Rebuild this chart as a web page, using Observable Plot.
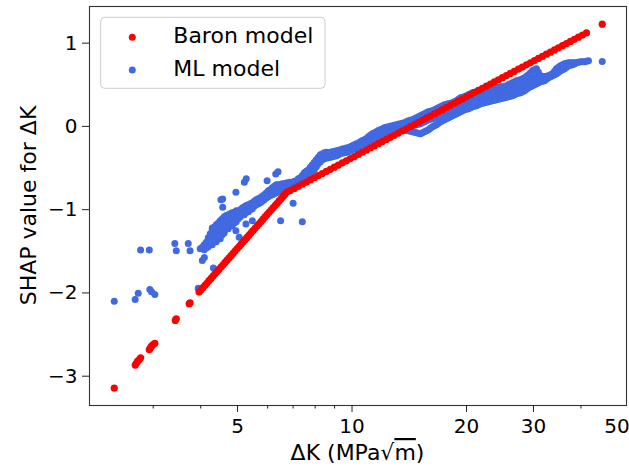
<!DOCTYPE html>
<html>
<head>
<meta charset="utf-8">
<script src="https://cdn.jsdelivr.net/npm/d3@7"></script>
<script src="https://cdn.jsdelivr.net/npm/@observablehq/plot@0.6"></script>
<style>
  html, body { margin: 0; padding: 0; background: #fff; }
</style>
</head>
<body>
<div id="chart"></div>
<script>
// ---- Data ----
const seriesNames = ["Baron model", "ML model"];
const seriesColors = ["#ff0000", "#4169e1"];

const xLabeledTicks = [5, 10, 20, 30];
const xEdgeTick = [50];
const xMinorTicks = [3, 4, 6, 7, 8, 9, 40];
const yTicks = [-3, -2, -1, 0, 1];

// Baron model: sparse low-ΔK points
const baronSparse = [
  [2.37,-3.144],[2.69,-2.866],[2.71,-2.845],[2.73,-2.82],[2.76,-2.80],[2.78,-2.78],
  [2.93,-2.68],[2.95,-2.66],[2.97,-2.64],[3.00,-2.62],[3.03,-2.605],
  [3.43,-2.33],[3.45,-2.31],[3.73,-2.13],[3.75,-2.12]
];
// Baron model: dense steep branch
const baronLow = [
  [3.960,-1.990],[4.008,-1.963],[4.057,-1.935],[4.107,-1.908],[4.157,-1.881],[4.207,-1.853],
  [4.259,-1.826],[4.311,-1.798],[4.363,-1.771],[4.417,-1.744],[4.470,-1.716],[4.525,-1.689],
  [4.580,-1.662],[4.636,-1.634],[4.693,-1.607],[4.750,-1.579],[4.808,-1.552],[4.866,-1.525],
  [4.926,-1.497],[4.986,-1.470],[5.046,-1.443],[5.108,-1.415],[5.170,-1.388],[5.233,-1.360],
  [5.297,-1.333],[5.362,-1.306],[5.427,-1.278],[5.493,-1.251],[5.560,-1.224],[5.628,-1.196],
  [5.696,-1.169],[5.766,-1.142],[5.836,-1.114],[5.907,-1.087],[5.979,-1.059],[6.052,-1.032],
  [6.126,-1.005],[6.201,-0.977],[6.276,-0.950],[6.353,-0.923],[6.430,-0.895],[6.509,-0.868],
  [6.588,-0.841],[6.668,-0.813],[6.750,-0.786]
];
// Baron model: dense shallow branch
const baronHigh = [
  [6.881,-0.771],[7.050,-0.745],[7.223,-0.720],[7.400,-0.694],[7.581,-0.669],[7.767,-0.643],
  [7.958,-0.617],[8.153,-0.592],[8.353,-0.566],[8.558,-0.541],[8.768,-0.515],[8.983,-0.490],
  [9.204,-0.464],[9.429,-0.438],[9.661,-0.413],[9.898,-0.387],[10.14,-0.362],[10.39,-0.336],
  [10.64,-0.310],[10.91,-0.285],[11.17,-0.259],[11.45,-0.234],[11.73,-0.208],[12.02,-0.182],
  [12.31,-0.157],[12.61,-0.131],[12.92,-0.106],[13.24,-0.080],[13.56,-0.054],[13.90,-0.029],
  [14.24,-0.003],[14.59,0.022],[14.94,0.048],[15.31,0.073],[15.69,0.099],[16.07,0.125],
  [16.47,0.150],[16.87,0.176],[17.28,0.201],[17.71,0.227],[18.14,0.253],[18.59,0.278],
  [19.04,0.304],[19.51,0.329],[19.99,0.355],[20.48,0.381],[20.98,0.406],[21.50,0.432],
  [22.02,0.457],[22.56,0.483],[23.12,0.509],[23.68,0.534],[24.26,0.560],[24.86,0.585],
  [25.47,0.611],[26.09,0.636],[26.73,0.662],[27.39,0.688],[28.06,0.713],[28.75,0.739],
  [29.46,0.764],[30.18,0.790],[30.92,0.816],[31.68,0.841],[32.45,0.867],[33.25,0.892],
  [34.07,0.918],[34.90,0.944],[35.76,0.969],[36.64,0.995],[37.53,1.020],[38.46,1.046],
  [39.40,1.071],[40.37,1.097],[41.36,1.123],[45.5,1.228]
];

// ML model: scattered points
const mlScatter = [
  [2.37,-2.10],[2.69,-2.08],[2.74,-2.005],[2.94,-1.96],[2.97,-1.985],[3.03,-2.02],
  [2.78,-1.484],[2.93,-1.484],[3.42,-1.405],[3.45,-1.492],[3.71,-1.405],[3.75,-1.492],
  [3.94,-1.945],[4.04,-1.612],[4.09,-1.576],[4.32,-1.70],[4.29,-1.22],[4.57,-0.972],
  [4.57,-0.872],[4.52,-0.88],[4.95,-0.792],[5.21,-0.672],[5.27,-0.628],[5.98,-0.652],
  [6.30,-0.571],[6.39,-0.544],[6.49,-1.132],[7.40,-1.144],[4.95,-1.252],[5.05,-1.332],
  [5.26,-1.172],[5.47,-1.132],[7.00,-0.924],[45.5,0.780]
];
// ML model: main band
const mlBand = [
  [3.989,-1.468],
  [4.087,-1.420],[4.087,-1.480],
  [4.187,-1.336],[4.187,-1.444],
  [4.290,-1.240],[4.290,-1.336],[4.290,-1.420],
  [4.395,-1.180],[4.395,-1.276],[4.395,-1.384],
  [4.503,-1.132],[4.503,-1.240],[4.503,-1.348],
  [4.613,-1.084],[4.613,-1.180],[4.613,-1.276],
  [4.726,-1.060],[4.726,-1.144],[4.726,-1.228],
  [4.842,-1.036],[4.842,-1.120],[4.842,-1.192],
  [4.961,-1.012],[4.961,-1.084],[4.961,-1.144],
  [5.083,-1.000],[5.083,-1.084],
  [5.208,-0.964],[5.208,-1.060],
  [5.336,-0.940],[5.336,-1.024],
  [5.467,-0.916],[5.467,-0.988],
  [5.601,-0.880],[5.601,-0.940],
  [5.738,-0.856],[5.738,-0.916],
  [5.879,-0.820],[5.879,-0.880],
  [6.023,-0.772],[6.023,-0.844],
  [6.171,-0.736],[6.171,-0.820],
  [6.322,-0.700],[6.322,-0.796],
  [6.477,-0.700],[6.477,-0.784],
  [6.636,-0.688],[6.636,-0.760],
  [6.799,-0.676],[6.799,-0.748],
  [6.966,-0.676],[6.966,-0.736],
  [7.137,-0.652],[7.137,-0.712],
  [7.312,-0.616],[7.312,-0.688],
  [7.491,-0.556],[7.491,-0.652],
  [7.675,-0.520],[7.675,-0.604],
  [7.863,-0.460],[7.863,-0.556],
  [8.056,-0.400],[8.056,-0.484],
  [8.254,-0.340],[8.254,-0.424],
  [8.456,-0.316],[8.456,-0.388],
  [8.664,-0.316],[8.664,-0.376],
  [8.876,-0.304],[8.876,-0.364],
  [9.094,-0.292],[9.094,-0.352],
  [9.317,-0.280],[9.317,-0.328],
  [9.546,-0.268],[9.546,-0.316],
  [9.780,-0.256],[9.780,-0.304],
  [10.02,-0.232],[10.02,-0.280],
  [10.27,-0.208],[10.27,-0.256],
  [10.52,-0.184],[10.52,-0.232],
  [10.78,-0.160],[10.78,-0.208],
  [11.04,-0.124],[11.04,-0.184],
  [11.31,-0.088],[11.31,-0.160],
  [11.59,-0.064],[11.59,-0.136],
  [11.87,-0.040],[11.87,-0.112],
  [12.16,-0.016],[12.16,-0.088],
  [12.46,-0.004],[12.46,-0.064],
  [12.77,0.008],[12.77,-0.052],
  [13.08,0.020],[13.08,-0.040],
  [13.40,0.032],[13.40,-0.028],
  [13.73,0.044],[13.73,-0.040],
  [14.07,0.068],[14.07,-0.004],[14.07,-0.052],
  [14.41,0.080],[14.41,0.008],[14.41,-0.064],
  [14.77,0.104],[14.77,0.020],[14.77,-0.076],
  [15.13,0.128],[15.13,0.032],[15.13,-0.088],
  [15.50,0.152],[15.50,0.056],[15.50,-0.064],
  [15.88,0.176],[15.88,0.080],[15.88,-0.040],
  [16.27,0.188],[16.27,0.092],[16.27,-0.004],
  [16.67,0.212],[16.67,0.116],[16.67,0.020],
  [17.08,0.236],[17.08,0.140],[17.08,0.056],
  [17.50,0.260],[17.50,0.164],[17.50,0.080],
  [17.93,0.272],[17.93,0.188],[17.93,0.104],
  [18.37,0.284],[18.37,0.200],[18.37,0.128],
  [18.82,0.309],[18.82,0.224],[18.82,0.152],
  [19.28,0.345],[19.28,0.260],[19.28,0.176],
  [19.75,0.357],[19.75,0.272],[19.75,0.200],
  [20.24,0.381],[20.24,0.297],[20.24,0.212],
  [20.73,0.405],[20.73,0.321],[20.73,0.236],
  [21.24,0.417],[21.24,0.333],[21.24,0.248],
  [21.76,0.417],[21.76,0.345],[21.76,0.272],
  [22.30,0.429],[22.30,0.357],[22.30,0.284],
  [22.84,0.441],[22.84,0.369],[22.84,0.297],
  [23.40,0.453],[23.40,0.381],[23.40,0.309],
  [23.98,0.465],[23.98,0.393],[23.98,0.321],
  [24.56,0.477],[24.56,0.405],[24.56,0.333],
  [25.17,0.477],[25.17,0.405],[25.17,0.345],
  [25.78,0.501],[25.78,0.429],[25.78,0.357],
  [26.42,0.525],[26.42,0.441],[26.42,0.369],
  [27.06,0.549],[27.06,0.465],[27.06,0.393],
  [27.73,0.561],[27.73,0.477],[27.73,0.405],
  [28.41,0.585],[28.41,0.501],[28.41,0.429],
  [29.10,0.621],[29.10,0.537],[29.10,0.465],
  [29.82,0.669],[29.82,0.573],[29.82,0.489],
  [30.55,0.693],[30.55,0.597],[30.55,0.513],
  [31.30,0.609],[31.30,0.537],
  [32.07,0.597],[32.07,0.549],
  [32.85,0.609],[32.85,0.585],
  [33.66,0.633],[33.66,0.609],
  [34.48,0.693],[34.48,0.633],
  [35.33,0.729],[35.33,0.669],
  [36.20,0.753],[36.20,0.693],
  [37.08,0.765],[37.08,0.729],
  [37.99,0.765],[37.99,0.741],
  [38.92,0.765],[39.88,0.777],[40.86,0.777],[41.86,0.789]
];
// ML model: points between the columns above
const mlBandFill = [
  [4.038,-1.45],
  [4.137,-1.39],[4.137,-1.46],
  [4.238,-1.29],[4.238,-1.38],
  [4.342,-1.21],[4.342,-1.38],
  [4.449,-1.16],[4.449,-1.32],
  [4.558,-1.11],[4.558,-1.19],[4.558,-1.30],
  [4.669,-1.07],[4.669,-1.23],
  [4.783,-1.05],[4.783,-1.12],[4.783,-1.19],
  [4.901,-1.03],[4.901,-1.16],
  [5.022,-1.02],[5.022,-1.11],
  [5.145,-0.98],[5.145,-1.06],
  [5.272,-0.95],[5.272,-1.03],
  [5.401,-0.93],[5.401,-1.00],
  [5.534,-0.90],[5.534,-0.96],
  [5.669,-0.87],[5.669,-0.93],
  [5.808,-0.84],[5.808,-0.90],
  [5.950,-0.80],[5.950,-0.86],
  [6.097,-0.76],[6.097,-0.83],
  [6.246,-0.72],[6.246,-0.81],
  [6.399,-0.70],[6.399,-0.78],
  [6.556,-0.69],[6.556,-0.77],
  [6.717,-0.68],[6.717,-0.75],
  [6.881,-0.67],[6.881,-0.74],
  [7.051,-0.66],[7.051,-0.72],
  [7.224,-0.63],[7.224,-0.70],
  [7.401,-0.59],[7.401,-0.67],
  [7.582,-0.54],[7.582,-0.63],
  [7.768,-0.49],[7.768,-0.58],
  [7.959,-0.43],[7.959,-0.52],
  [8.154,-0.37],[8.154,-0.45],
  [8.355,-0.33],[8.355,-0.40],
  [8.559,-0.31],[8.559,-0.38],
  [8.770,-0.31],[8.770,-0.37],
  [8.984,-0.30],[8.984,-0.36],
  [9.205,-0.29],[9.205,-0.34],
  [9.431,-0.27],[9.431,-0.32],
  [9.662,-0.26],[9.662,-0.31],
  [9.899,-0.245],[9.899,-0.29],
  [10.14,-0.22],[10.14,-0.27],
  [10.40,-0.20],[10.40,-0.245],
  [10.65,-0.17],[10.65,-0.22],
  [10.91,-0.145],[10.91,-0.195],
  [11.17,-0.105],[11.17,-0.17],
  [11.45,-0.075],[11.45,-0.15],
  [11.73,-0.05],[11.73,-0.125],
  [12.01,-0.03],[12.01,-0.10],
  [12.31,-0.01],[12.31,-0.075],
  [12.61,0.002],[12.61,-0.06],
  [12.93,0.014],[12.93,-0.046],
  [13.24,0.026],[13.24,-0.034],
  [13.56,0.038],[13.56,-0.034],
  [13.90,0.056],[13.90,-0.02],[13.90,-0.05],
  [14.24,0.074],[14.24,0.0],[14.24,-0.058],
  [14.59,0.092],[14.59,0.014],[14.59,-0.07],
  [14.95,0.116],[14.95,0.026],[14.95,-0.082],
  [15.31,0.14],[15.31,0.044],[15.31,-0.076],
  [15.69,0.164],[15.69,0.068],[15.69,-0.052],
  [16.07,0.182],[16.07,0.086],[16.07,-0.022],
  [16.47,0.20],[16.47,0.104],[16.47,0.008],
  [16.87,0.224],[16.87,0.128],[16.87,0.038],
  [17.29,0.248],[17.29,0.152],[17.29,0.068],
  [17.71,0.266],[17.71,0.176],[17.71,0.092],
  [18.15,0.278],[18.15,0.194],[18.15,0.116],
  [18.59,0.296],[18.59,0.212],[18.59,0.14],
  [19.05,0.327],[19.05,0.242],[19.05,0.164],
  [19.52,0.351],[19.52,0.266],[19.52,0.188],
  [19.99,0.369],[19.99,0.285],[19.99,0.206],
  [20.49,0.393],[20.49,0.309],[20.49,0.224],
  [20.98,0.411],[20.98,0.327],[20.98,0.242],
  [21.50,0.417],[21.50,0.339],[21.50,0.26],
  [22.03,0.423],[22.03,0.351],[22.03,0.278],
  [22.57,0.435],[22.57,0.363],[22.57,0.29],
  [23.12,0.447],[23.12,0.375],[23.12,0.303],
  [23.69,0.459],[23.69,0.387],[23.69,0.315],
  [24.27,0.471],[24.27,0.399],[24.27,0.327],
  [24.86,0.477],[24.86,0.405],[24.86,0.339],
  [25.48,0.489],[25.48,0.417],[25.48,0.351],
  [26.09,0.513],[26.09,0.435],[26.09,0.363],
  [26.74,0.537],[26.74,0.453],[26.74,0.381],
  [27.39,0.555],[27.39,0.471],[27.39,0.399],
  [28.07,0.573],[28.07,0.489],[28.07,0.417],
  [28.76,0.603],[28.76,0.519],[28.76,0.447],
  [29.46,0.645],[29.46,0.555],[29.46,0.477],
  [30.18,0.681],[30.18,0.585],[30.18,0.501],
  [30.92,0.651],[30.92,0.567],[30.92,0.525],
  [31.68,0.603],[31.68,0.543],
  [32.46,0.603],[32.46,0.567],
  [33.25,0.621],[33.25,0.597],
  [34.07,0.663],[34.07,0.621],
  [34.90,0.711],[34.90,0.651],
  [35.76,0.741],[35.76,0.681],
  [36.64,0.759],[36.64,0.711],
  [37.53,0.765],[37.53,0.735],
  [38.45,0.765],[38.45,0.75],
  [39.39,0.771],[40.37,0.777],[41.36,0.783]
];

const baron = [...baronSparse, ...baronLow, ...baronHigh];
const ml = [...mlScatter, ...mlBand, ...mlBandFill];

const fmtY = d => (d < 0 ? "\u2212" + Math.abs(d) : String(d));

const chart = Plot.plot({
  width: 629,
  height: 470,
  marginLeft: 89,
  marginRight: 3,
  marginTop: 6,
  marginBottom: 65,
  style: { fontFamily: "DejaVu Sans", fontSize: "20px", background: "#fff", color: "#000" },
  x: { type: "log", domain: [2.04, 52.7], label: null },
  y: { domain: [-3.352, 1.44], label: null },
  marks: [
    Plot.dot(ml, { x: d => d[0], y: d => d[1], r: 3.5, fill: seriesColors[1] }),
    Plot.dot(baron, { x: d => d[0], y: d => d[1], r: 3.6, fill: seriesColors[0] }),
    Plot.frame({ stroke: "#333", strokeWidth: 1.1 }),
    Plot.axisX({ ticks: xLabeledTicks, tickSize: 7, tickPadding: 6, tickFormat: d => String(d), label: null, stroke: "#222", fill: "#000" }),
    Plot.axisX({ ticks: xEdgeTick, tickSize: 7, tickPadding: 6, tickFormat: d => String(d), label: null, stroke: "#222", fill: "#000", textAnchor: "end", dx: 12 }),
    Plot.axisX({ ticks: xMinorTicks, tickSize: 3.5, tickFormat: () => "", label: null, stroke: "#222" }),
    Plot.axisY({ ticks: yTicks, tickSize: 7, tickPadding: 5, tickFormat: fmtY, label: null, stroke: "#222", fill: "#000" })
  ]
});

document.getElementById("chart").appendChild(chart);

const svg = d3.select(chart);

// Axis labels
const xl = svg.append("text")
  .attr("x", 357.5).attr("y", 460)
  .attr("text-anchor", "middle")
  .style("font-family", "DejaVu Sans").style("font-size", "22px").attr("fill", "#000");
xl.append("tspan").text("\u0394K (MPa\u221A");
xl.append("tspan").text("m").style("text-decoration", "overline");
xl.append("tspan").text(")");

svg.append("text")
  .attr("transform", "translate(35.5,205.5) rotate(-90)")
  .attr("text-anchor", "middle")
  .style("font-family", "DejaVu Sans").style("font-size", "22px").attr("fill", "#000")
  .text("SHAP value for \u0394K");

// Legend
const lg = svg.append("g");
lg.append("rect")
  .attr("x", 100.7).attr("y", 17.3).attr("width", 224.3).attr("height", 71)
  .attr("rx", 4).attr("fill", "#fff").attr("fill-opacity", 0.8)
  .attr("stroke", "#cccccc").attr("stroke-width", 1);
const legendRows = [37.3, 70];
seriesNames.forEach((name, i) => {
  lg.append("circle").attr("cx", 132.3).attr("cy", legendRows[i]).attr("r", 3.5).attr("fill", seriesColors[i]);
  lg.append("text").attr("x", 173.3).attr("y", legendRows[i] + 6)
    .attr("text-anchor", "start")
    .style("font-family", "DejaVu Sans").style("font-size", "22px").attr("fill", "#000")
    .text(name);
});
</script>
</body>
</html>
